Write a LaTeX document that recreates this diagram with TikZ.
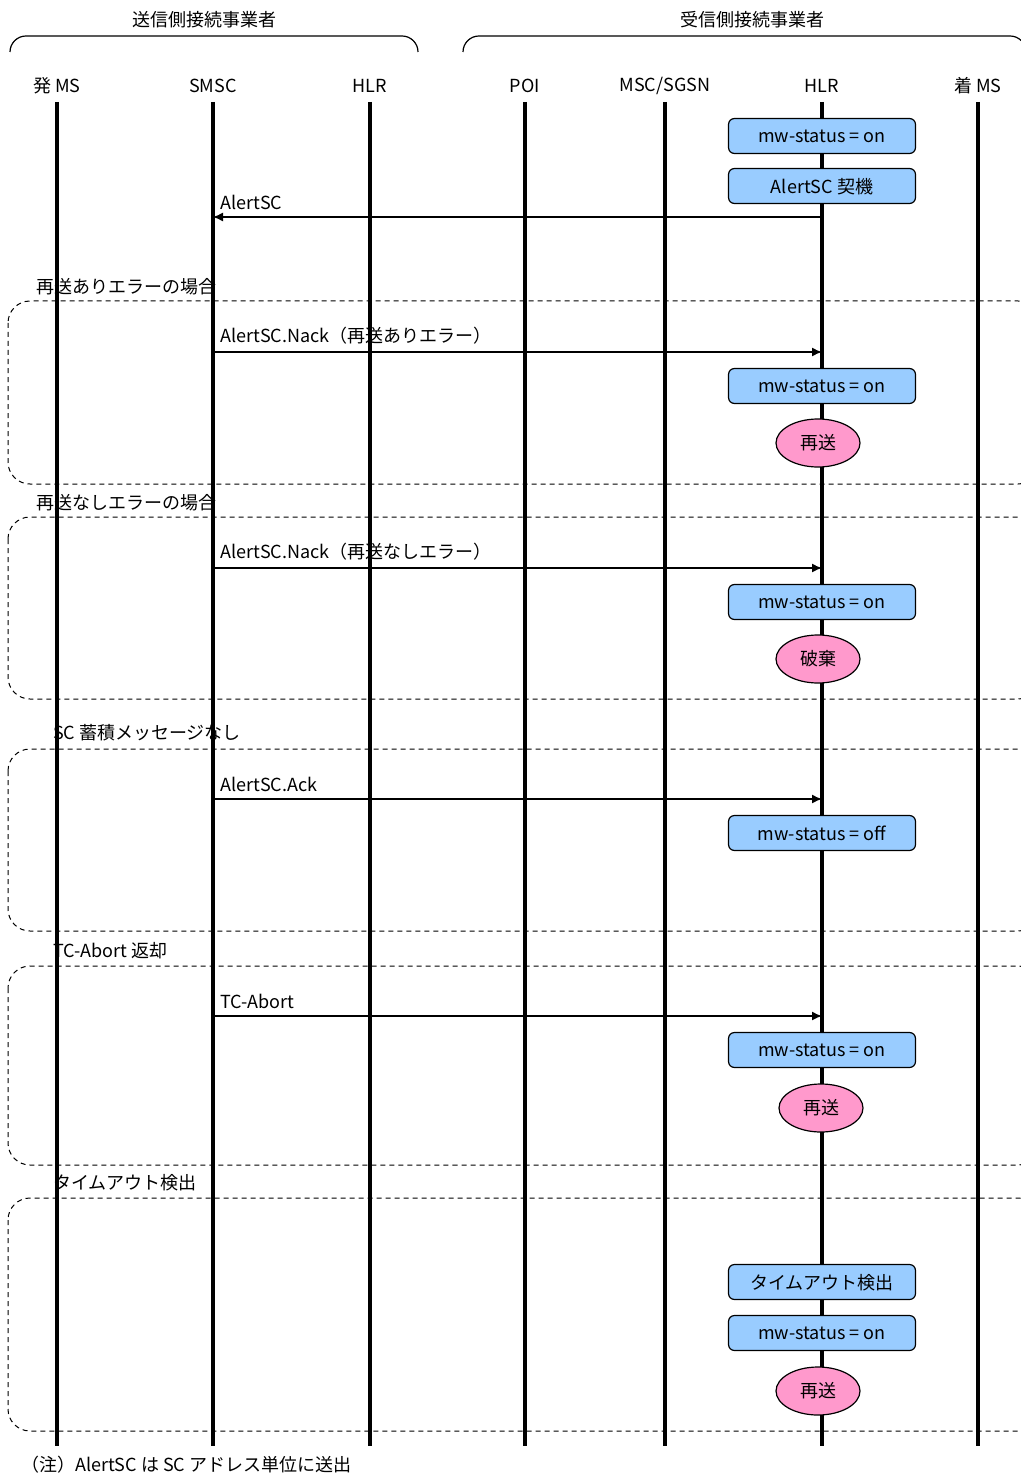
\documentclass[tikz,border=0pt]{standalone}
\usepackage{fontspec}
\setmainfont{Noto Sans CJK JP}
\usetikzlibrary{shapes.geometric,arrows.meta}

\definecolor{boxblue}{RGB}{153,204,255}
\definecolor{bubblepink}{RGB}{255,153,204}

\tikzset{
  lifeline/.style={line width=2pt},
  msg/.style={line width=0.7pt,-{Latex[length=5pt,width=4.5pt]}},
  statebox/.style={draw,line width=0.6pt,rounded corners=3pt,fill=boxblue,
    minimum width=93.5pt,minimum height=17.5pt,inner sep=0pt,text depth=0pt},
  actbubble/.style={ellipse,draw,line width=0.6pt,fill=bubblepink,
    minimum width=42pt,minimum height=24pt,inner sep=0pt},
  casebox/.style={dash pattern=on 2.5pt off 2pt,line width=0.5pt,rounded corners=11pt},
  grouping/.style={line width=0.6pt,rounded corners=8pt}
}

\begin{document}
\begin{tikzpicture}[x=0.5pt,y=-0.5pt,font=\fontsize{9}{11}\selectfont]
    \useasboundingbox (0,0) rectangle (1021,1476);
    \clip (0,0) rectangle (1021,1476);

    % operator groups
    \node (sendside) at (204,20) {送信側接続事業者};
    \node (recvside) at (752,20) {受信側接続事業者};
    \draw[grouping] (10,52) -- (10,36) -- (418,36) -- (418,52);
    \draw[grouping] (463,52) -- (463,36) -- (1026,36) -- (1026,52);

    % dashed case frames, with their captions
    \draw[casebox] (8,301) rectangle (1040,484);
    \node[anchor=west] (case1) at (29,287) {再送ありエラーの場合};
    \draw[casebox] (8,517) rectangle (1040,699);
    \node[anchor=west] (case2) at (29,503) {再送なしエラーの場合};
    \draw[casebox] (8,749) rectangle (1040,931);
    \node[anchor=west] (case3) at (46,733) {SC 蓄積メッセージなし};
    \draw[casebox] (8,966) rectangle (1040,1165);
    \node[anchor=west] (case4) at (46,951) {TC-Abort 返却};
    \draw[casebox] (8,1198) rectangle (1040,1431);
    \node[anchor=west] (case5) at (46,1183) {タイムアウト検出};

    % lifelines
    \node (oms) at (57,86) {発 MS};
    \node (smsc) at (213,86) {SMSC};
    \node (hlra) at (370,86) {HLR};
    \node (poi) at (525,86) {POI};
    \node (msc) at (665,86) {MSC/SGSN};
    \node (hlrb) at (822,86) {HLR};
    \node (tms) at (978,86) {着 MS};
    \draw[lifeline] (oms |- 0,102) -- (oms |- 0,1446);
    \draw[lifeline] (smsc |- 0,102) -- (smsc |- 0,1446);
    \draw[lifeline] (hlra |- 0,102) -- (hlra |- 0,1446);
    \draw[lifeline] (poi |- 0,102) -- (poi |- 0,1446);
    \draw[lifeline] (msc |- 0,102) -- (msc |- 0,1446);
    \draw[lifeline] (hlrb |- 0,102) -- (hlrb |- 0,1446);
    \draw[lifeline] (tms |- 0,102) -- (tms |- 0,1446);

    % trigger
    \node[statebox] (st0) at (822,136) {mw-status = on};
    \node[statebox] (trig) at (822,186) {AlertSC 契機};
    \draw[msg] (hlrb |- 0,217) -- node[pos=1,above right] {AlertSC} (smsc |- 0,217);

    % retry error
    \draw[msg] (smsc |- 0,352) -- node[pos=0,above right] {AlertSC.Nack（再送ありエラー）} (hlrb |- 0,352);
    \node[statebox] (st1) at (822,386) {mw-status = on};
    \node[actbubble] (act1) at (818,443) {再送};

    % no-retry error
    \draw[msg] (smsc |- 0,568) -- node[pos=0,above right] {AlertSC.Nack（再送なしエラー）} (hlrb |- 0,568);
    \node[statebox] (st2) at (822,602) {mw-status = on};
    \node[actbubble] (act2) at (818,659) {破棄};

    % nothing stored
    \draw[msg] (smsc |- 0,799) -- node[pos=0,above right] {AlertSC.Ack} (hlrb |- 0,799);
    \node[statebox] (st3) at (822,833) {mw-status = off};

    % abort
    \draw[msg] (smsc |- 0,1016) -- node[pos=0,above right] {TC-Abort} (hlrb |- 0,1016);
    \node[statebox] (st4) at (822,1050) {mw-status = on};
    \node[actbubble] (act4) at (821,1108) {再送};

    % timeout
    \node[statebox] (tmo) at (822,1282) {タイムアウト検出};
    \node[statebox] (st5) at (822,1333) {mw-status = on};
    \node[actbubble] (act5) at (818,1391) {再送};

    \node[anchor=west] (note) at (14,1465) {（注）AlertSC は SC アドレス単位に送出};
\end{tikzpicture}
\end{document}
